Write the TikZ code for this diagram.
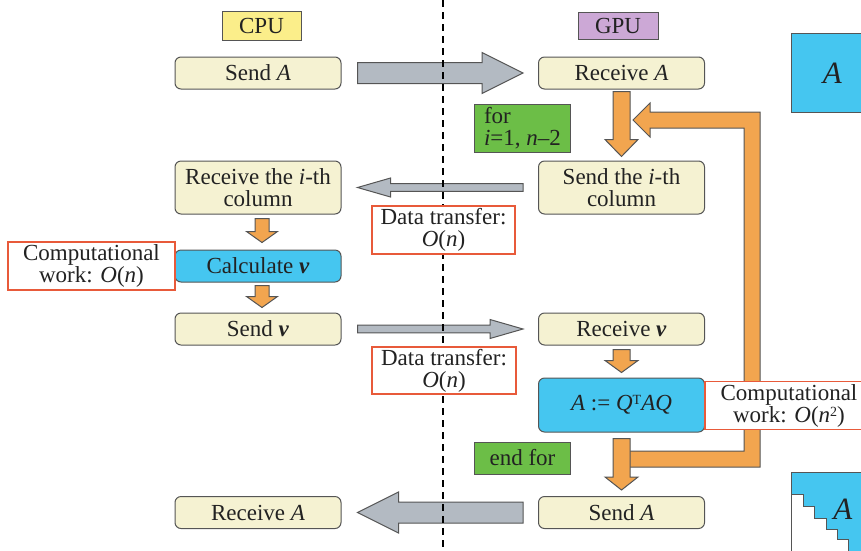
\documentclass[tikz,border=0pt]{standalone}
\usepackage{fontspec}
\setmainfont{Liberation Serif}
\usetikzlibrary{calc}
\definecolor{cream}{HTML}{F5F2D2}
\definecolor{bluebox}{HTML}{45C6F0}
\definecolor{grayarr}{HTML}{B3BAC2}
\definecolor{orangearr}{HTML}{F2A54F}
\definecolor{redline}{HTML}{E85A3A}
\definecolor{greenfill}{HTML}{6CBE47}
\definecolor{cpuyellow}{HTML}{FBEE8A}
\definecolor{gpupurple}{HTML}{CCA8D6}
\definecolor{edge}{HTML}{555555}
\definecolor{ink}{HTML}{222222}
\newcommand\smallsup[1]{\raisebox{6pt}{\fontsize{14}{14}\selectfont #1}}
% style, from, to, shaft half, head half, head length
\newcommand\blockarrow[6]{%
  \draw[#1] let \p1=(#2), \p2=(#3), \n1={atan2(\y2-\y1,\x2-\x1)}, \n2={veclen(\x2-\x1,\y2-\y1)} in
   [shift={(\p1)}, rotate=\n1] (0,-#4) -- (\n2-#6,-#4) -- (\n2-#6,-#5) -- (\n2,0) -- (\n2-#6,#5) -- (\n2-#6,#4) -- (0,#4) -- cycle;}
\begin{document}
\begin{tikzpicture}[x=1pt,y=-1pt,
  every node/.style={font=\fontsize{23}{22}\selectfont, text=ink, inner sep=0pt, align=center},
  cbox/.style={draw=edge, line width=1pt, rounded corners=6pt, fill=cream, minimum width=166pt, minimum height=32pt},
  bbox/.style={cbox, fill=bluebox},
  redbox/.style={draw=redline, line width=1.8pt, fill=white, minimum width=143pt, minimum height=48pt},
  greenbox/.style={draw=edge, line width=1pt, fill=greenfill, minimum width=96pt, minimum height=32pt},
  tag/.style={draw=edge, line width=0.8pt, minimum width=79pt, minimum height=29pt},
  grayarrow/.style={draw=edge, line width=1pt, fill=grayarr},
  orangearrow/.style={draw=edge, line width=1pt, fill=orangearr},
  matbox/.style={draw=edge, line width=1pt, fill=bluebox}
]
\useasboundingbox (0,0) rectangle (861,550);
\clip (0,0) rectangle (861,550);

% labels
\node[tag, fill=cpuyellow] (cpu) at (261.5,25.5) {CPU};
\node[tag, fill=gpupurple, minimum width=80pt, minimum height=27pt] (gpu) at (618,25.5) {GPU};

% CPU column
\node[cbox] (sendA) at (258,73) {Send \textit{A}};
\node[cbox, minimum height=53pt] (recvcol) at (258,187.5) {Receive the \textit{i}-th\\column};
\node[bbox] (calcv) at (258,266) {Calculate \textbf{\textit{v}}};
\node[cbox] (sendv) at (258,329) {Send \textbf{\textit{v}}};
\node[cbox] (recvA) at (258,512.5) {Receive \textit{A}};

% GPU column
\node[cbox] (recvA2) at (621.5,73) {Receive \textit{A}};
\node[cbox, minimum height=53pt] (sendcol) at (621.5,187.5) {Send the \textit{i}-th\\column};
\node[cbox] (recvv) at (621.5,329) {Receive \textbf{\textit{v}}};
\node[bbox, minimum height=54pt] (update) at (621.5,405) {\textit{A} := \textit{Q}\smallsup{T}\textit{AQ}};
\node[cbox] (sendA2) at (621.5,512.5) {Send \textit{A}};

% gray transfer arrows
\blockarrow{grayarrow}{$(sendA.east)+(16,0)$}{$(recvA2.west)+(-15,0)$}{10.5}{20.5}{41}
\blockarrow{grayarrow}{$(sendA2.west)+(-15,0)$}{$(recvA.east)+(16,0)$}{10.5}{20.5}{41}
\blockarrow{grayarrow}{$(sendcol.west)+(-15,0)$}{$(recvcol.east)+(16,0)$}{3.8}{9.5}{33}
\blockarrow{grayarrow}{$(sendv.east)+(16,0)$}{$(recvv.west)+(-15,0)$}{3.8}{9.5}{33}

% dashed divider
\coordinate (divtop) at (443,0);
\coordinate (divbot) at (443,550);
\draw[line width=1.5pt, dash pattern=on 7pt off 5pt] (divtop) -- (divbot);

% orange flow arrows, CPU side
\blockarrow{orangearrow}{$(recvcol.south)+(4,4)$}{$(calcv.north)+(4,-7)$}{7}{15.5}{11}
\blockarrow{orangearrow}{$(calcv.south)+(4,3)$}{$(sendv.north)+(4,-5)$}{7}{15.5}{11}

% loop back arrow
\coordinate (loopa) at (629,451);
\coordinate (loopb) at (744,451);
\coordinate (loopc) at (744,128);
\coordinate (loopd) at (760,112);
\coordinate (loope) at (760,467);
\coordinate (looptip) at (633,120);
\draw[orangearrow] (loopa) -- (loopb) -- (loopc) -- (650,128) -- (650,137) -- (looptip) -- (650,103) -- (650,112) -- (loopd) -- (loope) -- (629,467) -- cycle;

% orange flow arrows, GPU side
\blockarrow{orangearrow}{$(recvA2.south)+(0,2)$}{$(sendcol.north)+(0,-4)$}{8.5}{16.5}{17}
\blockarrow{orangearrow}{$(recvv.south)+(0,4)$}{$(update.north)+(0,-5)$}{8.5}{16.5}{12}
\blockarrow{orangearrow}{$(update.south)+(0,6)$}{$(sendA2.north)+(0,-6)$}{8.5}{16.5}{13}

% loop labels
\node[greenbox, minimum height=48pt, align=left] (forlbl) at (522.5,128) {for\\\textit{i}=1, \textit{n}--2};
\node[greenbox] (endfor) at (522.5,458) {end for};

% cost boxes
\node[redbox] (dt1) at (443.5,230) {Data transfer:\\\textit{O}(\textit{n})};
\node[redbox, minimum width=144pt, minimum height=47pt] (dt2) at (444,370.5) {Data transfer:\\\textit{O}(\textit{n})};
\node[redbox, minimum width=167pt] (cw1) at (91.5,266) {Computational\\work: \textit{O}(\textit{n})};
\node[redbox, minimum width=168pt] (cw2) at (789,405.5) {Computational\\work: \textit{O}(\textit{n}\smallsup{2})};

% matrix pictograms
\node[matbox, minimum width=82pt, minimum height=79pt, anchor=north west, font=\fontsize{31}{31}\selectfont] (matA) at (791,33) {\textit{A}};
\fill[bluebox] (791,472) rectangle (880,560);
\filldraw[fill=white, draw=edge, line width=1pt] (791,560) -- (791,494) -- (803,494) -- (803,506) -- (814,506) -- (814,518) -- (826,518) -- (826,529) -- (837,529) -- (837,539) -- (848,539) -- (848,560);
\draw[edge, line width=1pt] (791,560) -- (791,472) -- (880,472);
\node[font=\fontsize{31}{31}\selectfont] (matH) at (843,509) {\textit{A}};
\end{tikzpicture}
\end{document}
